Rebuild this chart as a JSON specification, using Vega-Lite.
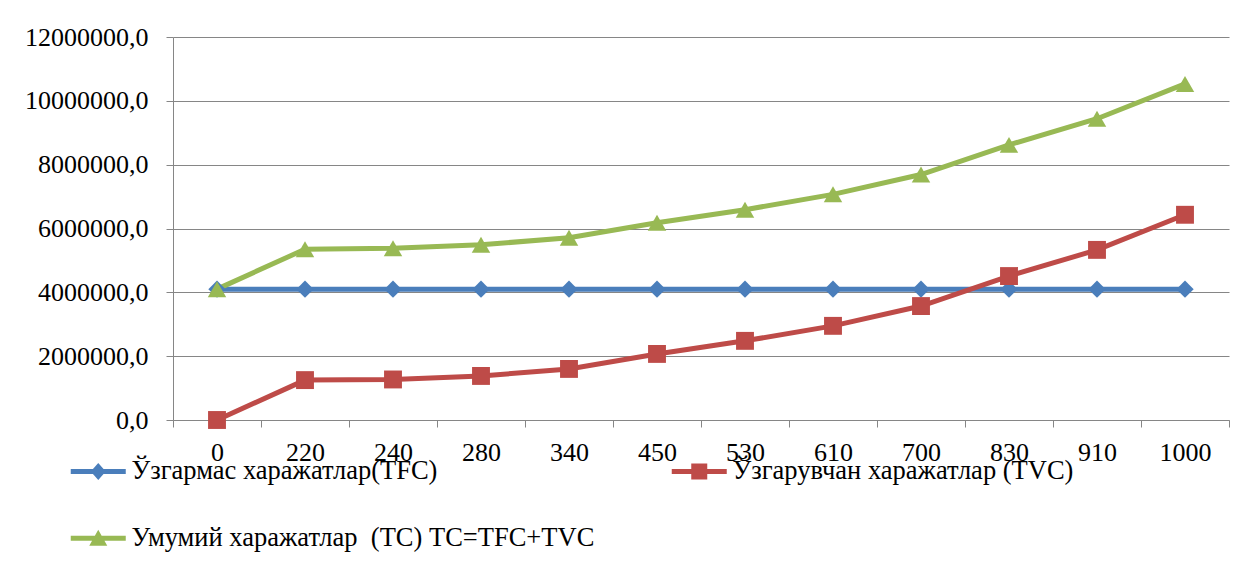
{
  "$schema": "https://vega.github.io/schema/vega-lite/v6.json",
  "width": 1056,
  "height": 383,
  "autosize": {"type": "none"},
  "padding": {"left": 173, "top": 37, "right": 17, "bottom": 160},
  "background": "white",
  "config": {
    "view": {"stroke": null},
    "font": "Liberation Serif",
    "axis": {"labelFont": "Liberation Serif"},
    "legend": {"labelFont": "Liberation Serif"}
  },
  "data": {
    "values": [
      {"output": "0", "series": "Ўзгармас харажатлар(TFC)", "cost": 4100000},
      {"output": "220", "series": "Ўзгармас харажатлар(TFC)", "cost": 4100000},
      {"output": "240", "series": "Ўзгармас харажатлар(TFC)", "cost": 4100000},
      {"output": "280", "series": "Ўзгармас харажатлар(TFC)", "cost": 4100000},
      {"output": "340", "series": "Ўзгармас харажатлар(TFC)", "cost": 4100000},
      {"output": "450", "series": "Ўзгармас харажатлар(TFC)", "cost": 4100000},
      {"output": "530", "series": "Ўзгармас харажатлар(TFC)", "cost": 4100000},
      {"output": "610", "series": "Ўзгармас харажатлар(TFC)", "cost": 4100000},
      {"output": "700", "series": "Ўзгармас харажатлар(TFC)", "cost": 4100000},
      {"output": "830", "series": "Ўзгармас харажатлар(TFC)", "cost": 4100000},
      {"output": "910", "series": "Ўзгармас харажатлар(TFC)", "cost": 4100000},
      {"output": "1000", "series": "Ўзгармас харажатлар(TFC)", "cost": 4100000},
      {"output": "0", "series": "Ўзгарувчан харажатлар (TVC)", "cost": 0},
      {"output": "220", "series": "Ўзгарувчан харажатлар (TVC)", "cost": 1250000},
      {"output": "240", "series": "Ўзгарувчан харажатлар (TVC)", "cost": 1270000},
      {"output": "280", "series": "Ўзгарувчан харажатлар (TVC)", "cost": 1380000},
      {"output": "340", "series": "Ўзгарувчан харажатлар (TVC)", "cost": 1600000},
      {"output": "450", "series": "Ўзгарувчан харажатлар (TVC)", "cost": 2070000},
      {"output": "530", "series": "Ўзгарувчан харажатлар (TVC)", "cost": 2480000},
      {"output": "610", "series": "Ўзгарувчан харажатлар (TVC)", "cost": 2950000},
      {"output": "700", "series": "Ўзгарувчан харажатлар (TVC)", "cost": 3570000},
      {"output": "830", "series": "Ўзгарувчан харажатлар (TVC)", "cost": 4510000},
      {"output": "910", "series": "Ўзгарувчан харажатлар (TVC)", "cost": 5330000},
      {"output": "1000", "series": "Ўзгарувчан харажатлар (TVC)", "cost": 6430000},
      {"output": "0", "series": "Умумий харажатлар \u00a0(TC) TC=TFC+TVC", "cost": 4100000},
      {"output": "220", "series": "Умумий харажатлар \u00a0(TC) TC=TFC+TVC", "cost": 5350000},
      {"output": "240", "series": "Умумий харажатлар \u00a0(TC) TC=TFC+TVC", "cost": 5380000},
      {"output": "280", "series": "Умумий харажатлар \u00a0(TC) TC=TFC+TVC", "cost": 5490000},
      {"output": "340", "series": "Умумий харажатлар \u00a0(TC) TC=TFC+TVC", "cost": 5710000},
      {"output": "450", "series": "Умумий харажатлар \u00a0(TC) TC=TFC+TVC", "cost": 6180000},
      {"output": "530", "series": "Умумий харажатлар \u00a0(TC) TC=TFC+TVC", "cost": 6590000},
      {"output": "610", "series": "Умумий харажатлар \u00a0(TC) TC=TFC+TVC", "cost": 7070000},
      {"output": "700", "series": "Умумий харажатлар \u00a0(TC) TC=TFC+TVC", "cost": 7690000},
      {"output": "830", "series": "Умумий харажатлар \u00a0(TC) TC=TFC+TVC", "cost": 8620000},
      {"output": "910", "series": "Умумий харажатлар \u00a0(TC) TC=TFC+TVC", "cost": 9440000},
      {"output": "1000", "series": "Умумий харажатлар \u00a0(TC) TC=TFC+TVC", "cost": 10530000}
    ]
  },
  "encoding": {
    "x": {
      "field": "output",
      "type": "ordinal",
      "sort": ["0", "220", "240", "280", "340", "450", "530", "610", "700", "830", "910", "1000"],
      "scale": {"paddingInner": 0, "paddingOuter": 0},
      "axis": {
        "title": null,
        "labelAngle": 0,
        "tickBand": "extent",
        "grid": false,
        "domainColor": "#868686",
        "tickColor": "#868686",
        "tickSize": 7,
        "labelFont": "Liberation Serif",
        "labelFontSize": 26,
        "labelColor": "black",
        "labelPadding": 12
      }
    },
    "y": {
      "field": "cost",
      "type": "quantitative",
      "scale": {"domain": [0, 12000000], "nice": false, "zero": true},
      "axis": {
        "title": null,
        "values": [0, 2000000, 4000000, 6000000, 8000000, 10000000, 12000000],
        "grid": true,
        "gridColor": "#868686",
        "domainColor": "#868686",
        "tickColor": "#868686",
        "tickSize": 7,
        "labelFont": "Liberation Serif",
        "labelFontSize": 26,
        "labelColor": "black",
        "labelPadding": 18,
        "labelExpr": "replace(format(datum.value, '.1f'), '.', ',')"
      }
    },
    "color": {
      "field": "series",
      "type": "nominal",
      "scale": {
        "domain": ["Ўзгармас харажатлар(TFC)", "Ўзгарувчан харажатлар (TVC)", "Умумий харажатлар \u00a0(TC) TC=TFC+TVC"],
        "range": ["#4A7EBB", "#BE4B48", "#98B954"]
      },
      "legend": null
    }
  },
  "layer": [
    {"mark": {"type": "line", "strokeWidth": 5}},
    {
      "mark": {"type": "point", "filled": true, "opacity": 1},
      "encoding": {
        "shape": {
          "field": "series",
          "type": "nominal",
          "scale": {
            "domain": ["Ўзгармас харажатлар(TFC)", "Ўзгарувчан харажатлар (TVC)", "Умумий харажатлар \u00a0(TC) TC=TFC+TVC"],
            "range": ["diamond", "square", "triangle-up"]
          },
          "legend": null
        },
        "size": {
          "field": "series",
          "type": "nominal",
          "scale": {
            "domain": ["Ўзгармас харажатлар(TFC)", "Ўзгарувчан харажатлар (TVC)", "Умумий харажатлар \u00a0(TC) TC=TFC+TVC"],
            "range": [300, 340, 420]
          },
          "legend": null
        }
      }
    },
    {
      "transform": [{"filter": "false"}],
      "mark": {"type": "point", "filled": true, "opacity": 1},
      "encoding": {
        "color": {
          "field": "series",
          "type": "nominal",
          "legend": {
            "title": null,
            "orient": "none",
            "direction": "horizontal",
            "legendX": -88,
            "legendY": 421,
            "columns": 2,
            "columnPadding": 76,
            "rowPadding": 40,
            "padding": 0,
            "symbolSize": 400,
            "labelOffset": 20,
            "labelFont": "Liberation Serif",
            "labelFontSize": 26.5,
            "labelColor": "black",
            "labelLimit": 800
          }
        },
        "shape": {
          "field": "series",
          "type": "nominal",
          "scale": {
            "domain": ["Ўзгармас харажатлар(TFC)", "Ўзгарувчан харажатлар (TVC)", "Умумий харажатлар \u00a0(TC) TC=TFC+TVC"],
            "range": [
              "M-2.75,-0.25L2.75,-0.25L2.75,0.25L-2.75,0.25Z M0,-0.85L0.75,0L0,0.85L-0.75,0Z",
              "M-2.75,-0.25L2.75,-0.25L2.75,0.25L-2.75,0.25Z M-0.8,-0.8L0.8,-0.8L0.8,0.8L-0.8,0.8Z",
              "M-2.75,-0.25L2.75,-0.25L2.75,0.25L-2.75,0.25Z M0,-0.85L0.9,0.75L-0.9,0.75Z"
            ]
          },
          "legend": {
            "title": null,
            "orient": "none",
            "direction": "horizontal",
            "legendX": -88,
            "legendY": 421,
            "columns": 2,
            "columnPadding": 76,
            "rowPadding": 40,
            "padding": 0,
            "symbolSize": 400,
            "labelOffset": 20,
            "labelFont": "Liberation Serif",
            "labelFontSize": 26.5,
            "labelColor": "black",
            "labelLimit": 800
          }
        }
      }
    }
  ],
  "resolve": {
    "scale": {"shape": "independent"},
    "legend": {"shape": "independent", "color": "independent"}
  }
}
